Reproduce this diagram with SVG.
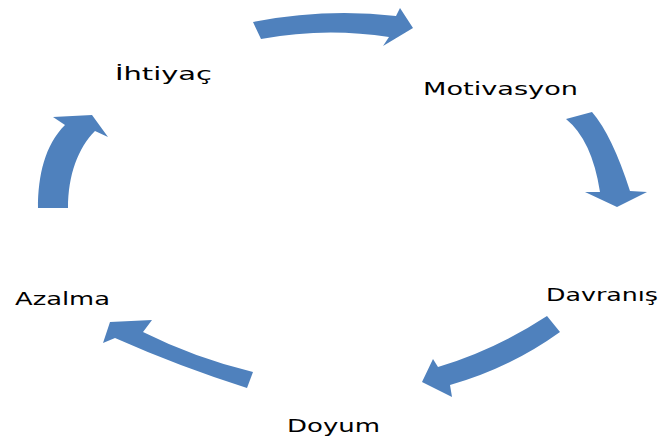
<svg xmlns="http://www.w3.org/2000/svg" width="665" height="439" viewBox="0 0 665 439">
<style>
.lbl{font-family:"DejaVu Sans","Liberation Sans",sans-serif;font-size:17px;fill:#000}
.arr{fill:#4F81BD;stroke:none}
</style>
<rect width="665" height="439" fill="#fff"/>
<g id="connectors">
<path class="arr" d="M253,22 Q325,8 396,16 L400,8 L413,28 L383,46 L389,37 Q325,27 261,39 Z"/>
<path class="arr" d="M566,119 L592,112 Q612,135 630,191 L647,192 L617,207 L585,192 L600,192 Q592,140 566,119 Z"/>
<path class="arr" d="M547,316 L560,332 Q510,368 450,385 L452,397 L422,382 L433,359 L438,367 Q495,350 547,316 Z"/>
<path class="arr" d="M253,372 L247,388 Q178,366 115,338 L103,343 L110,322 L152,320 L143,332 Q195,358 253,372 Z"/>
<path class="arr" d="M38,208 C38,175 45,145 65,125 L53,117 L92,115 L108,137 L95,131 C78,148 68,175 68,208 Z"/>
</g>
<g id="ihtiyac"><text class="lbl" x="115" y="80" textLength="97" lengthAdjust="spacingAndGlyphs">İhtiyaç</text></g>
<g id="motivasyon"><text class="lbl" x="423" y="95" textLength="155" lengthAdjust="spacingAndGlyphs">Motivasyon</text></g>
<g id="davranis"><text class="lbl" x="546" y="301" textLength="112" lengthAdjust="spacingAndGlyphs">Davranış</text></g>
<g id="doyum"><text class="lbl" x="287" y="432" textLength="93" lengthAdjust="spacingAndGlyphs">Doyum</text></g>
<g id="azalma"><text class="lbl" x="15" y="305" textLength="95" lengthAdjust="spacingAndGlyphs">Azalma</text></g>
</svg>
